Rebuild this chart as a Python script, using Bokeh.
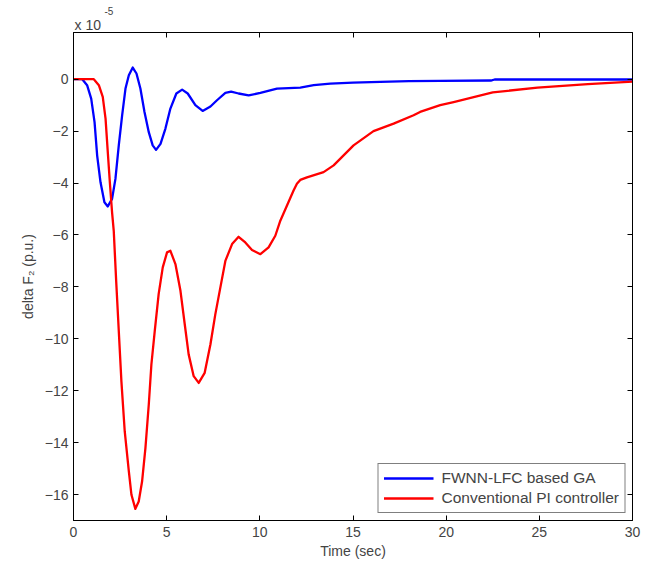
from bokeh.plotting import figure
from bokeh.models import (LinearAxis, Range1d, FixedTicker, Title, Legend, LegendItem,
                          CustomJSTickFormatter)
from bokeh.embed import file_html
from bokeh.resources import INLINE

# Time axis (sec) and deviations (units of 1e-5 p.u.)
t_fwnn = [0, 0.47, 0.73, 0.95, 1.13, 1.27, 1.45, 1.66, 1.84, 2.07, 2.25, 2.43, 2.61, 2.79, 2.97,
          3.18, 3.38, 3.59, 3.81, 4.04, 4.25, 4.43, 4.67, 4.93, 5.2, 5.52, 5.83, 6.13, 6.54, 6.93,
          7.35, 7.7, 8.15, 8.46, 8.86, 9.4, 10.03, 10.92, 12.17, 12.89, 13.78, 15.0, 16.46, 18.0,
          19.68, 22.4, 22.6, 30.0]
y_fwnn = [0, 0, -0.23, -0.75, -1.65, -2.94, -3.97, -4.74, -4.9, -4.61, -3.84, -2.55, -1.39, -0.36,
          0.15, 0.45, 0.22, -0.36, -1.26, -2.04, -2.55, -2.72, -2.49, -1.91, -1.13, -0.55, -0.4,
          -0.55, -1.0, -1.22, -1.05, -0.81, -0.53, -0.48, -0.55, -0.62, -0.53, -0.36, -0.32, -0.23,
          -0.17, -0.13, -0.1, -0.07, -0.06, -0.05, -0.01, -0.01]

t_pi = [0, 1.09, 1.36, 1.57, 1.72, 1.84, 1.95, 2.07, 2.16, 2.29, 2.43, 2.57, 2.75, 2.97, 3.11,
        3.32, 3.5, 3.68, 3.86, 4.04, 4.18, 4.36, 4.57, 4.79, 5.02, 5.2, 5.47, 5.74, 5.97, 6.18,
        6.45, 6.72, 7.04, 7.35, 7.61, 7.88, 8.15, 8.51, 8.86, 9.22, 9.58, 10.03, 10.47, 10.83,
        11.1, 11.81, 11.99, 12.17, 12.53, 13.42, 13.96, 15.03, 16.1, 17.18, 18.25, 18.6, 19.68,
        20.4, 22.5, 24.9, 27.6, 30.0]
y_pi = [0, 0, -0.23, -0.68, -1.52, -2.81, -3.97, -5.13, -5.84, -7.77, -9.7, -11.63, -13.57,
        -15.11, -16.01, -16.55, -16.27, -15.5, -14.21, -12.53, -10.99, -9.7, -8.28, -7.25, -6.67,
        -6.61, -7.12, -8.15, -9.44, -10.6, -11.44, -11.7, -11.31, -10.21, -9.06, -8.03, -7.0,
        -6.35, -6.07, -6.29, -6.58, -6.74, -6.48, -6.03, -5.45, -4.29, -4.03, -3.88, -3.78, -3.58,
        -3.32, -2.55, -2.0, -1.71, -1.39, -1.26, -1.0, -0.88, -0.51, -0.32, -0.19, -0.09]

x_ticks = [0, 5, 10, 15, 20, 25, 30]
y_ticks = [-16, -14, -12, -10, -8, -6, -4, -2, 0]
series_names = ["FWNN-LFC based GA", "Conventional PI controller"]

FONT = "Liberation Sans"

p = figure(frame_width=559, frame_height=488, output_backend="svg", toolbar_location=None,
           x_range=Range1d(0, 30), y_range=Range1d(-17, 1.8), title=None,
           min_border_left=73, min_border_right=22, min_border_top=32, min_border_bottom=44,
           x_axis_label="Time (sec)", y_axis_label="delta F₂ (p.u.)")
p.grid.visible = False
p.outline_line_color = "black"
p.background_fill_color = "white"
p.border_fill_color = "white"

for ax in [p.xaxis[0], p.yaxis[0]]:
    ax.major_tick_in = 5
    ax.major_tick_out = 0
    ax.minor_tick_line_color = None
    ax.major_label_text_font = FONT
    ax.major_label_text_font_size = "14px"
    ax.axis_label_text_font = FONT
    ax.axis_label_text_font_size = "14px"
    ax.axis_label_text_font_style = "normal"
    ax.axis_line_color = "black"
p.xaxis.ticker = FixedTicker(ticks=x_ticks)
p.yaxis.ticker = FixedTicker(ticks=y_ticks)
p.xaxis.major_label_standoff = 6
p.xaxis.axis_label_standoff = 3
p.yaxis.major_label_standoff = 5
p.yaxis.axis_label_standoff = 6

blank = CustomJSTickFormatter(code="return '';")
top = LinearAxis(ticker=FixedTicker(ticks=x_ticks), formatter=blank,
                 major_tick_in=5, major_tick_out=0, minor_tick_line_color=None,
                 major_label_standoff=0)
right = LinearAxis(ticker=FixedTicker(ticks=y_ticks), formatter=blank,
                   major_tick_in=5, major_tick_out=0, minor_tick_line_color=None,
                   major_label_standoff=0)
p.add_layout(top, "above")
p.add_layout(right, "right")

mult = Title(text="x 10", align="left", offset=1, standoff=0, text_font=FONT,
             text_font_size="14px", text_font_style="normal")
expo = Title(text="-5", align="left", offset=31, standoff=0, text_font=FONT,
             text_font_size="10px", text_font_style="normal")
p.add_layout(mult, "above")
p.add_layout(expo, "above")

r1 = p.line(t_fwnn, y_fwnn, line_color="#0000FF", line_width=2.3, line_join="round")
r2 = p.line(t_pi, y_pi, line_color="#FF0000", line_width=2.3, line_join="round")

legend = Legend(items=[LegendItem(label=series_names[0], renderers=[r1]),
                       LegendItem(label=series_names[1], renderers=[r2])],
                location="bottom_right", margin=7, padding=5, spacing=2,
                glyph_width=50, glyph_height=18, label_standoff=8, label_height=18,
                label_text_font=FONT, label_text_font_size="15.5px",
                border_line_color="black", border_line_width=1,
                background_fill_alpha=1.0)
p.add_layout(legend, "center")

open("out.html", "w").write(file_html(p, INLINE))
